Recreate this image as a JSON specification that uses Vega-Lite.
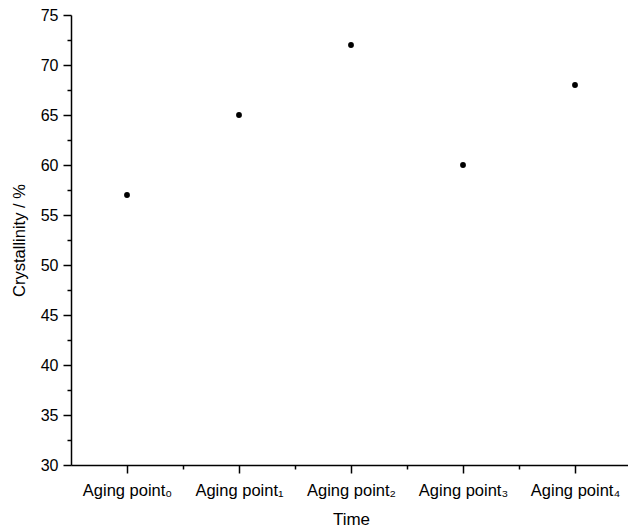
{
  "$schema": "https://vega.github.io/schema/vega-lite/v6.json",
  "width": 560,
  "height": 450,
  "autosize": {"type": "none"},
  "padding": {"left": 71, "top": 15, "right": 0, "bottom": 65},
  "background": "white",
  "config": {
    "view": {"stroke": null},
    "font": "Liberation Sans",
    "axis": {
      "grid": false,
      "domainColor": "black",
      "domainWidth": 1.5,
      "tickColor": "black",
      "tickWidth": 1.5,
      "labelColor": "black",
      "titleColor": "black",
      "labelFont": "Liberation Sans",
      "titleFont": "Liberation Sans",
      "titleFontWeight": "normal"
    }
  },
  "data": {"values": [
    {"t": 0, "c": 57},
    {"t": 1, "c": 65},
    {"t": 2, "c": 72},
    {"t": 3, "c": 60},
    {"t": 4, "c": 68}
  ]},
  "resolve": {"axis": {"x": "independent", "y": "independent"}},
  "layer": [
    {
      "mark": {"type": "point", "filled": true, "color": "black", "opacity": 0, "size": 1},
      "encoding": {
        "x": {"field": "t", "type": "quantitative", "scale": {"domain": [-0.5, 4.5], "nice": false, "zero": false},
          "axis": {"orient": "bottom", "values": [0.5, 1.5, 2.5, 3.5], "labels": false, "domain": false, "tickSize": 4, "title": null}},
        "y": {"field": "c", "type": "quantitative", "scale": {"domain": [30, 75], "nice": false, "zero": false},
          "axis": {"orient": "left", "values": [32.5, 37.5, 42.5, 47.5, 52.5, 57.5, 62.5, 67.5, 72.5], "labels": false, "domain": false, "tickSize": 4, "title": null}}
      }
    },
    {
      "mark": {"type": "point", "filled": true, "color": "black", "opacity": 1, "size": 34},
      "encoding": {
        "x": {"field": "t", "type": "quantitative", "scale": {"domain": [-0.5, 4.5], "nice": false, "zero": false},
          "axis": {"orient": "bottom", "values": [0, 1, 2, 3, 4], "tickSize": 8, "labelFontSize": 16.5, "labelPadding": 9,
            "labelExpr": "'Aging point' + ['₀','₁','₂','₃','₄'][datum.value]",
            "title": "Time", "titleFontSize": 17, "titlePadding": 13}},
        "y": {"field": "c", "type": "quantitative", "scale": {"domain": [30, 75], "nice": false, "zero": false},
          "axis": {"orient": "left", "values": [30, 35, 40, 45, 50, 55, 60, 65, 70, 75], "tickSize": 8, "labelFontSize": 16, "labelPadding": 5,
            "title": "Crystallinity / %", "titleFontSize": 16.5, "titlePadding": 13}}
      }
    }
  ]
}
